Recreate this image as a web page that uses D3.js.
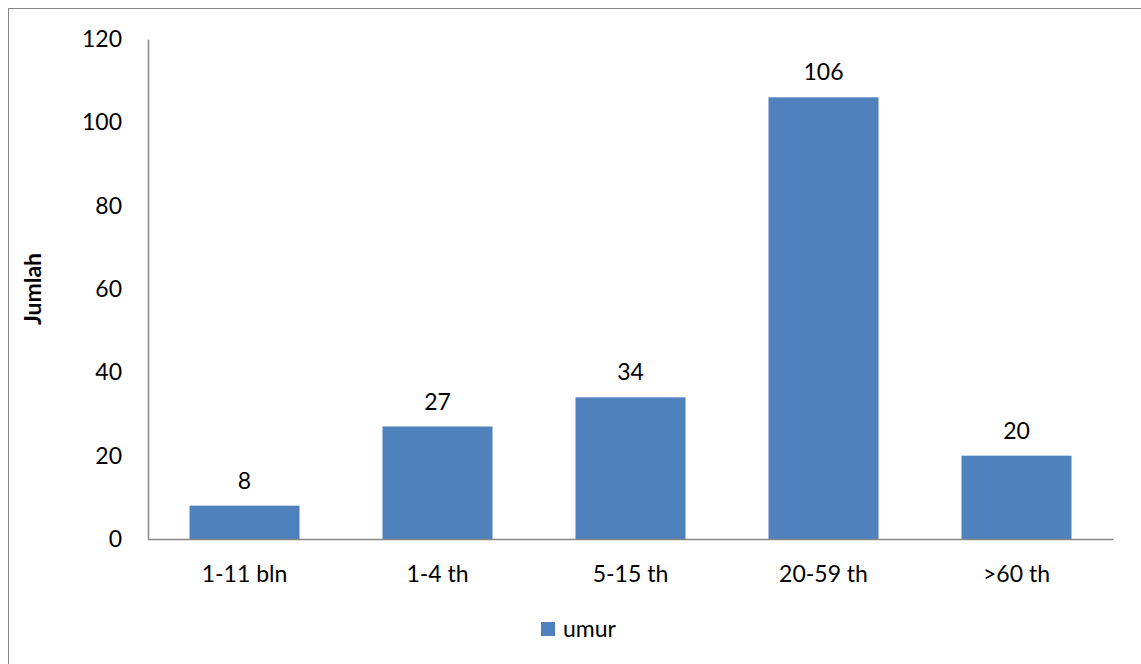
<!DOCTYPE html>
<html>
<head>
<meta charset="utf-8">
<script src="https://cdn.jsdelivr.net/npm/d3@7"></script>
<style>
  html, body { margin: 0; padding: 0; background: #fff; }
  svg { display: block; font-family: Lato, "Open Sans", sans-serif; }
</style>
</head>
<body>
<svg id="chart" width="1141" height="664"></svg>
<script>
// Age groups and counts
const categories = ["1-11 bln", "1-4 th", "5-15 th", "20-59 th", ">60 th"];
const values = [8, 27, 34, 106, 20];
const yTicks = [0, 20, 40, 60, 80, 100, 120];
const seriesName = "umur";
const yTitle = "Jumlah";

const svg = d3.select("#chart");
const barColor = "#4F81BD";
const axisColor = "#878787";
const fontSize = 23;
const fontFamily = "Lato, 'Open Sans', sans-serif";

const plot = { left: 148, right: 1113, top: 39, bottom: 539 };

// Outer chart frame
svg.append("rect")
  .attr("x", 8.5).attr("y", 8.5)
  .attr("width", 1160).attr("height", 680)
  .attr("fill", "none").attr("stroke", "#878787").attr("stroke-width", 1);

const x = d3.scaleBand().domain(categories).range([plot.left, plot.right]).paddingInner(0.43).paddingOuter(0.215);
const y = d3.scaleLinear().domain([0, 120]).range([plot.bottom, plot.top]);

// Bars
svg.append("g").selectAll("rect").data(values).join("rect")
  .attr("x", (d, i) => x(categories[i]))
  .attr("y", d => y(d))
  .attr("width", x.bandwidth())
  .attr("height", d => y(0) - y(d))
  .attr("fill", barColor);

// Value labels
svg.append("g").selectAll("text").data(values).join("text")
  .attr("x", (d, i) => x(categories[i]) + x.bandwidth() / 2)
  .attr("y", d => y(d) - 25)
  .attr("dy", "0.35em")
  .attr("text-anchor", "middle")
  .attr("font-size", fontSize)
  .attr("fill", "#000")
  .text(d => d);

// Y axis
const yAxis = d3.axisLeft(y).tickValues(yTicks).tickSize(0).tickPadding(26);
const gy = svg.append("g").attr("transform", `translate(${plot.left},0)`).call(yAxis);
gy.select(".domain").attr("stroke", axisColor).attr("stroke-width", 1.5);
gy.selectAll("text").attr("font-size", fontSize).attr("fill", "#000").attr("font-family", fontFamily);

// X axis
const xAxis = d3.axisBottom(x).tickSize(0).tickPadding(27);
const gx = svg.append("g").attr("transform", `translate(0,${plot.bottom})`).call(xAxis);
gx.select(".domain").attr("stroke", axisColor).attr("stroke-width", 1.5);
gx.selectAll("text").attr("font-size", fontSize).attr("fill", "#000").attr("font-family", fontFamily);

// Y title
svg.append("text")
  .attr("transform", `translate(33,${(plot.top + plot.bottom) / 2}) rotate(-90)`)
  .attr("text-anchor", "middle")
  .attr("dy", "0.35em")
  .attr("font-size", fontSize)
  .attr("font-weight", "bold")
  .text(yTitle);

// Legend
const legend = svg.append("g").attr("transform", "translate(541,622)");
legend.append("rect").attr("width", 14).attr("height", 14).attr("fill", barColor);
legend.append("text").attr("x", 22).attr("y", 7).attr("dy", "0.35em")
  .attr("font-size", fontSize).text(seriesName);
</script>
</body>
</html>
